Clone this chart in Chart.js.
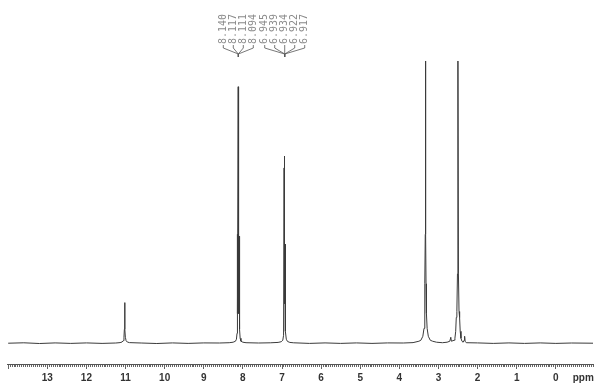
<!DOCTYPE html>
<html>
<head>
<meta charset="utf-8">
<script src="https://cdn.jsdelivr.net/npm/chart.js@4.4.1/dist/chart.umd.min.js"></script>
<style>
  html, body { margin: 0; padding: 0; background: #fff; }
  #spectrum { display: block; }
</style>
</head>
<body>
<canvas id="spectrum" width="598" height="387"></canvas>
<script>
// 1H NMR trace: chemical shift (ppm) and height above baseline
const shifts = [
  14.0, 13.6, 13.2, 12.8, 12.4, 12.0, 11.6, 11.25,
  11.14, 11.09, 11.06, 11.04, 11.03, 11.022, 11.014, 11.004, 10.985, 10.955, 10.9,
  10.6, 10.2, 9.8, 9.4, 9.0, 8.6, 8.35,
  8.25, 8.19, 8.165, 8.15, 8.142, 8.136, 8.12, 8.116, 8.111, 8.104, 8.094, 8.085, 8.07, 8.05, 8.0, 7.92,
  7.6, 7.3, 7.1, 7.02, 6.98, 6.96, 6.947, 6.943, 6.939, 6.936, 6.934, 6.928, 6.922, 6.92, 6.917, 6.905, 6.89, 6.86, 6.8, 6.7,
  6.3, 5.9, 5.5, 5.1, 4.7, 4.3, 3.9, 3.65,
  3.5, 3.45, 3.4, 3.37, 3.355, 3.345, 3.338, 3.332, 3.326, 3.318, 3.308, 3.29, 3.26, 3.21, 3.15, 3.05,
  2.9, 2.78, 2.71, 2.685, 2.67,
  2.6, 2.58, 2.56, 2.545, 2.53, 2.515, 2.503, 2.49, 2.475, 2.46, 2.445, 2.425, 2.4,
  2.37, 2.345, 2.332, 2.32, 2.29,
  2.0, 1.6, 1.2, 0.8, 0.4, 0.0, -0.4, -0.95
];
const intensities = [
  0, 0.4, -0.3, 0.3, -0.2, 0.3, -0.2, 0.2,
  0.6, 1.2, 2.5, 6, 14, 41, 14, 6, 2.5, 1.2, 0.6,
  0.2, -0.3, 0.3, -0.2, 0.3, 0.2, 0.5,
  1, 2, 4, 10, 110, 30, 259, 60, 134, 30, 108, 14, 5, 2, 1, 0.5,
  0.2, 0.4, 0.8, 1.5, 3, 8, 177, 60, 189, 70, 150, 40, 100, 50, 90, 12, 4, 1.8, 0.8, 0.4,
  -0.2, 0.3, -0.2, 0.3, -0.2, 0.3, 0.2, 0.6,
  2, 3, 7, 15, 30, 60, 110, 285, 110, 60, 30, 15, 7, 3, 2, 1,
  0.5, 1, 2, 6, 2,
  3, 5, 12, 26, 32, 70, 285, 70, 32, 26, 12, 5, 2,
  1, 3, 7, 2, 0.5,
  0.3, -0.2, 0.3, -0.2, 0.3, -0.2, 0.2, 0
];

// peak-pick labels printed above the two aromatic multiplets
const multipletA = ['8.140', '8.117', '8.111', '8.094'];
const multipletACenter = 8.117;
const multipletB = ['6.945', '6.939', '6.934', '6.922', '6.917'];
const multipletBCenter = 6.931;

const PPM_LEFT = 14.03;
const PPM_RIGHT = -0.95;

const isWhole = (v) => Math.abs(v - Math.round(v)) < 1e-9;

const peakLabels = {
  id: 'peakLabels',
  afterDraw(chart) {
    const { ctx } = chart;
    const x = chart.scales.x;
    const drawGroup = (labels, center) => {
      const cx = x.getPixelForValue(center);
      const n = labels.length;
      ctx.save();
      ctx.strokeStyle = '#555';
      ctx.lineWidth = 0.8;
      labels.forEach((lab, i) => {
        const lx = cx + (i - (n - 1) / 2) * 10;
        ctx.beginPath();
        ctx.moveTo(lx, 45);
        ctx.lineTo(lx, 48);
        ctx.lineTo(cx, 54);
        ctx.lineTo(cx, 57);
        ctx.stroke();
        ctx.save();
        ctx.translate(lx, 44);
        ctx.rotate(-Math.PI / 2);
        ctx.fillStyle = '#8a8a8a';
        ctx.font = '10px "DejaVu Sans Mono", monospace';
        ctx.textAlign = 'left';
        ctx.textBaseline = 'middle';
        ctx.fillText(lab, 0, 0);
        ctx.restore();
      });
      ctx.restore();
    };
    drawGroup(multipletA, multipletACenter);
    drawGroup(multipletB, multipletBCenter);

    // unit label at the right end of the ruler
    ctx.save();
    ctx.fillStyle = '#333';
    ctx.font = 'bold 10px "Liberation Sans", Arial, sans-serif';
    ctx.textAlign = 'center';
    ctx.textBaseline = 'middle';
    ctx.fillText('ppm', x.getPixelForValue(-0.7), x.top + 14);
    ctx.restore();
  }
};

new Chart(document.getElementById('spectrum'), {
  type: 'line',
  data: {
    datasets: [{
      data: shifts.map((s, i) => ({ x: s, y: intensities[i] })),
      borderColor: '#3a3a3a',
      borderWidth: 1,
      pointRadius: 0,
      tension: 0,
      fill: false
    }]
  },
  options: {
    responsive: false,
    animation: false,
    devicePixelRatio: 1,
    layout: { padding: { top: 60, left: 7, right: 5, bottom: 0 } },
    plugins: { legend: { display: false }, tooltip: { enabled: false } },
    scales: {
      x: {
        type: 'linear',
        reverse: true,
        min: PPM_RIGHT,
        max: PPM_LEFT,
        afterBuildTicks: (scale) => {
          const ticks = [];
          for (let i = Math.ceil(PPM_RIGHT * 20); i <= Math.floor(PPM_LEFT * 20); i++) {
            ticks.push({ value: i / 20 });
          }
          scale.ticks = ticks;
        },
        border: { display: true, color: '#555', width: 1 },
        grid: {
          drawOnChartArea: false,
          tickLength: 5,
          tickColor: '#666',
          tickWidth: 1,
          tickBorderDash: (c) => (c.tick && isWhole(c.tick.value)) ? [] : [2, 10]
        },
        ticks: {
          autoSkip: false,
          maxRotation: 0,
          padding: 3,
          color: '#333',
          font: { family: '"Liberation Sans", Arial, sans-serif', size: 10, weight: 'bold' },
          callback: (v) => (isWhole(v) && v >= 0 && v <= 13) ? String(Math.round(v)) : ''
        }
      },
      y: {
        display: false,
        min: -21,
        max: 286
      }
    }
  },
  plugins: [peakLabels]
});
</script>
</body>
</html>
